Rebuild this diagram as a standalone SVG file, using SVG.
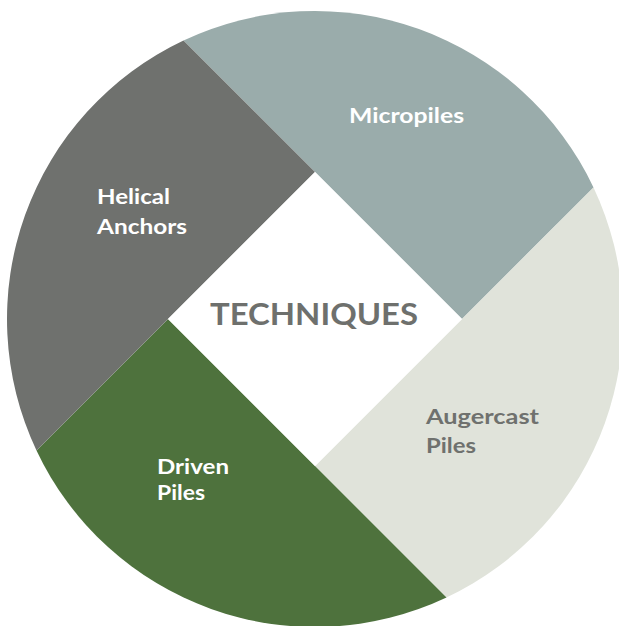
<svg xmlns="http://www.w3.org/2000/svg" width="619" height="626" viewBox="0 0 619 626">
  <style>
    .lbl { font-family: Lato, "Open Sans", "DejaVu Sans", sans-serif; font-weight: 700; font-size: 21px; }
    .w { fill: #ffffff; }
    .g { fill: #6f716e; }
    .title { font-family: Lato, "Open Sans", "DejaVu Sans", sans-serif; font-weight: 700; font-size: 31px; fill: #6e706d; }
  </style>
  <rect width="619" height="626" fill="#ffffff"/>
  <g id="micropiles">
    <path d="M315,172 L183.49,40.49 A308,308 0 0 1 593.51,187.49 L462,319 Z" fill="#9aacab"/>
    <text class="lbl w" x="349" y="122.5" textLength="115" lengthAdjust="spacingAndGlyphs">Micropiles</text>
  </g>
  <g id="augercast-piles">
    <path d="M462,319 L593.51,187.49 A308,308 0 0 1 446.51,597.51 L315,466 Z" fill="#e0e3da"/>
    <text class="lbl g" x="426" y="424" textLength="113" lengthAdjust="spacingAndGlyphs">Augercast</text>
    <text class="lbl g" x="426" y="452.5" textLength="50" lengthAdjust="spacingAndGlyphs">Piles</text>
  </g>
  <g id="driven-piles">
    <path d="M315,466 L446.51,597.51 A308,308 0 0 1 36.49,450.51 L168,319 Z" fill="#4e723d"/>
    <text class="lbl w" x="157" y="474" textLength="72" lengthAdjust="spacingAndGlyphs">Driven</text>
    <text class="lbl w" x="157" y="500" textLength="48" lengthAdjust="spacingAndGlyphs">Piles</text>
  </g>
  <g id="helical-anchors">
    <path d="M168,319 L36.49,450.51 A308,308 0 0 1 183.49,40.49 L315,172 Z" fill="#6f716e"/>
    <text class="lbl w" x="97" y="204" textLength="73" lengthAdjust="spacingAndGlyphs">Helical</text>
    <text class="lbl w" x="97" y="234" textLength="90" lengthAdjust="spacingAndGlyphs">Anchors</text>
  </g>
  <g id="techniques">
    <path d="M315,172 L462,319 L315,466 L168,319 Z" fill="#ffffff"/>
    <text class="title" x="210" y="325" textLength="208" lengthAdjust="spacingAndGlyphs">TECHNIQUES</text>
  </g>
  <g id="connectors"/>
</svg>
